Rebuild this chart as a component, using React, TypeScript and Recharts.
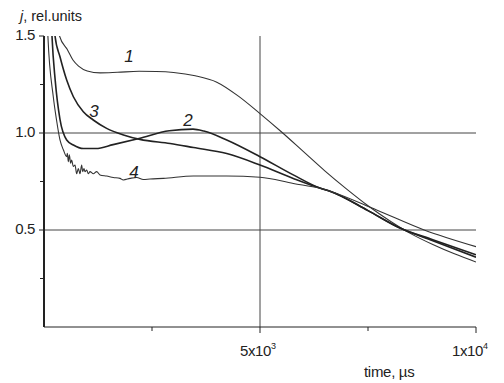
import React from "react";
import { LineChart, Line, XAxis, YAxis, CartesianGrid, ReferenceDot } from "recharts";

// curve 1
const time1 = [0, 25, 360, 540, 670, 800, 1000, 1300, 1700, 2200, 2600, 3000, 3500, 4000, 4500, 5000, 5500, 6000, 6500, 7000, 7500, 8000, 8500, 9000, 9500, 10000];
const j1 = [0.62, 3.0, 1.5, 1.43, 1.376, 1.345, 1.32, 1.31, 1.313, 1.318, 1.317, 1.312, 1.295, 1.262, 1.19, 1.1, 1.005, 0.905, 0.805, 0.712, 0.625, 0.548, 0.48, 0.425, 0.377, 0.335];

// curve 2
const time2 = [0, 20, 185, 260, 370, 525, 680, 910, 1200, 1600, 2200, 2900, 3450, 3700, 4230, 5000, 5770, 6400, 6620, 7500, 8240, 9000, 10000];
const j2 = [0.62, 3.0, 1.5, 1.27, 1.07, 0.964, 0.938, 0.92, 0.92, 0.94, 0.972, 1.012, 1.02, 1.01, 0.964, 0.878, 0.784, 0.715, 0.7, 0.6, 0.51, 0.45, 0.372];

// curve 3
const time3 = [0, 20, 255, 370, 525, 680, 910, 1140, 1450, 1840, 2220, 2920, 3460, 4230, 5000, 5770, 6400, 6620, 7500, 8240, 9000, 10000];
const j3 = [0.62, 3.0, 1.5, 1.393, 1.273, 1.187, 1.11, 1.067, 1.024, 0.99, 0.967, 0.946, 0.925, 0.894, 0.835, 0.766, 0.715, 0.7, 0.6, 0.51, 0.445, 0.36];

// curve 4 (noisy)
const time4 = [0, 15, 90, 215, 290, 370, 450, 525, 540, 563, 586, 617, 640, 679, 718, 756, 795, 833, 872, 895, 926, 949, 988, 1026, 1065, 1142, 1219, 1296, 1451, 1605, 1759, 1836, 1991, 2146, 2299, 2454, 2762, 3457, 4229, 5000, 5772, 6389, 6620, 7700, 8800, 10000];
const j4 = [0.62, 3.0, 1.5, 1.187, 1.067, 0.964, 0.912, 0.878, 0.895, 0.852, 0.887, 0.844, 0.861, 0.827, 0.835, 0.79, 0.817, 0.79, 0.835, 0.801, 0.817, 0.801, 0.809, 0.79, 0.801, 0.79, 0.801, 0.784, 0.778, 0.771, 0.766, 0.758, 0.766, 0.771, 0.76, 0.763, 0.766, 0.778, 0.778, 0.772, 0.74, 0.715, 0.7, 0.603, 0.5, 0.414];

const xTicks = [2500, 5000, 7500, 10000];
const xLabelled = [5000, 10000];
const xLabels = ["5x10|3", "1x10|4"];
const yTicks = [0.25, 0.5, 0.75, 1.0, 1.25, 1.5];
const yLabelled = [0.5, 1.0, 1.5];
const yLabels = ["0.5", "1.0", "1.5"];

// curve labels: [time, j, text]
const labelTimes = [1968, 3333, 1157, 2083];
const labelJs = [1.397, 1.067, 1.113, 0.799];
const labelTexts = ["1", "2", "3", "4"];

const toRows = (t: number[], v: number[]) => t.map((x, i) => ({ t: x, j: v[i] }));
const series = [
  { name: "1", data: toRows(time1, j1), width: 1.1, color: "#333" },
  { name: "2", data: toRows(time2, j2), width: 1.6, color: "#222" },
  { name: "3", data: toRows(time3, j3), width: 1.6, color: "#222" },
  { name: "4", data: toRows(time4, j4), width: 1.1, color: "#333" },
];

const FONT = "'Liberation Sans', Arial, sans-serif";
const INK = "#222";

const Y_TICK = 5;
const Y_MARGIN = 4;
const X_TICK = 6;
const X_MARGIN = 23;

function YTick(props: any) {
  const { x, y, payload } = props;
  const axisX = x + Y_TICK + Y_MARGIN;
  const idx = yLabelled.indexOf(payload.value);
  const len = idx >= 0 ? 5 : 4;
  return (
    <g>
      <line x1={axisX - len} x2={axisX} y1={y} y2={y} stroke={INK} strokeWidth={1} />
      {idx >= 0 && (
        <text x={x} y={y - 1} dy="0.35em" textAnchor="end" fontSize={15} fill={INK} fontFamily={FONT} letterSpacing={-0.4}>
          {yLabels[idx]}
        </text>
      )}
    </g>
  );
}

function XTick(props: any) {
  const { x, y, payload } = props;
  const axisY = y - X_TICK - X_MARGIN;
  const idx = xLabelled.indexOf(payload.value);
  const len = idx >= 0 ? 6 : 4;
  const [base, sup] = idx >= 0 ? xLabels[idx].split("|") : ["", ""];
  return (
    <g>
      <line x1={x} x2={x} y1={axisY} y2={axisY + len} stroke={INK} strokeWidth={1} />
      {idx >= 0 && (
        <text x={x + (payload.value === 10000 ? -24 : -20)} y={y} textAnchor="start" fontSize={15} fill={INK} fontFamily={FONT} letterSpacing={-0.4}>
          {base}
          <tspan dy={-7} fontSize={9}>{sup}</tspan>
        </text>
      )}
    </g>
  );
}

export default function App() {
  return (
    <div style={{ position: "absolute", left: 0, top: 0, width: 504, height: 383, background: "#fff" }}>
      <LineChart width={504} height={383} margin={{ top: 36, right: 28, bottom: 26, left: 0 }}>
        <CartesianGrid
          horizontal
          vertical
          horizontalValues={[0.5, 1.0]}
          verticalValues={[5000]}
          stroke="#444"
          strokeWidth={1}
          strokeDasharray=""
        />
        <XAxis
          type="number"
          dataKey="t"
          domain={[0, 10000]}
          ticks={xTicks}
          allowDataOverflow
          height={30}
          tickSize={X_TICK}
          tickMargin={X_MARGIN}
          tickLine={false}
          tick={<XTick />}
          axisLine={{ stroke: INK, strokeWidth: 1 }}
          interval={0}
        />
        <YAxis
          type="number"
          dataKey="j"
          domain={[0, 1.5]}
          ticks={yTicks}
          allowDataOverflow
          width={44}
          tickSize={Y_TICK}
          tickMargin={Y_MARGIN}
          tickLine={false}
          tick={<YTick />}
          axisLine={{ stroke: INK, strokeWidth: 2 }}
          interval={0}
        />
        {series.map((s) => (
          <Line
            key={s.name}
            data={s.data}
            dataKey="j"
            type="monotone"
            stroke={s.color}
            strokeWidth={s.width}
            dot={false}
            activeDot={false}
            isAnimationActive={false}
          />
        ))}
        {labelTexts.map((txt, i) => (
          <ReferenceDot
            key={txt}
            x={labelTimes[i]}
            y={labelJs[i]}
            r={0}
            shape={(p: any) => (
              <text x={p.cx} y={p.cy} dy="0.35em" textAnchor="middle" fontSize={17} fontStyle="italic" fill={INK} fontFamily={FONT}>
                {txt}
              </text>
            )}
          />
        ))}
      </LineChart>
      <svg width={504} height={383} style={{ position: "absolute", left: 0, top: 0, pointerEvents: "none" }}>
        <text x={20} y={21} fontSize={14.5} fill={INK} fontFamily={FONT}>
          <tspan fontStyle="italic">j</tspan>, rel.units
        </text>
        <text x={364} y={377} fontSize={15} fill={INK} fontFamily={FONT} letterSpacing={-0.3}>
          time, µs
        </text>
      </svg>
    </div>
  );
}
